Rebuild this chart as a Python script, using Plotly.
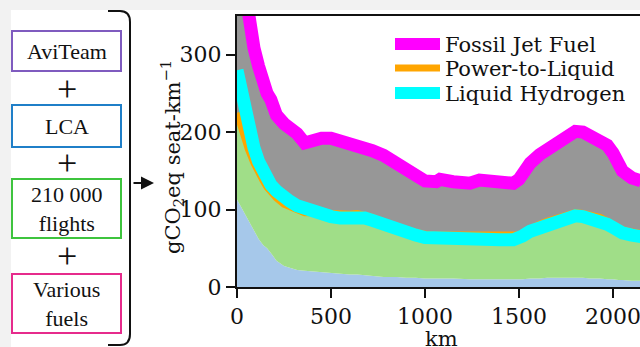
import plotly.graph_objects as go

# ---------------- data ----------------
distance_km = [0, 30, 60, 90, 115, 140, 160, 180, 210, 250, 280, 320, 360, 400, 450,
               500, 550, 600, 640, 680, 720, 780, 850, 900, 950, 1000, 1060, 1080,
               1150, 1240, 1290, 1350, 1400, 1470, 1500, 1520, 1560, 1610, 1650, 1700,
               1740, 1770, 1800, 1840, 1880, 1930, 1970, 2000, 2030, 2050, 2100, 2150]

fossil_jet_fuel = [450, 395, 345, 309, 285, 262, 250, 242, 222, 211, 206, 198, 186, 190, 192,
                   192, 189, 186, 184, 181, 176, 170, 158, 150, 142, 137, 136, 139,
                   136, 134, 138, 138, 135, 134, 139, 148, 160, 171, 178, 186,
                   194, 199, 201, 200, 196, 190, 183, 173, 160, 150, 141, 137]

power_to_liquid = [225, 198, 178, 160, 147, 137, 129, 122, 115, 107, 104, 99, 96, 96, 95,
                   94, 93, 94, 95, 93, 90, 84, 77, 74, 71, 68, 67, 67,
                   66, 65, 66, 65, 65, 65, 67, 70, 76, 81, 85, 89,
                   93, 95, 96, 95, 93, 90, 85, 81, 76, 74, 71, 69]

liquid_hydrogen = [280, 240, 208, 180, 162, 149, 140, 132, 124, 115, 111, 105, 101, 97, 93,
                   91, 89, 90, 91, 89, 86, 80, 73, 70, 67, 64, 63, 63,
                   62, 61, 62, 61, 61, 61, 63, 66, 72, 77, 81, 85,
                   89, 91, 92, 91, 89, 86, 81, 77, 72, 70, 67, 65]

base_component = [113, 100, 87, 73, 62, 54, 50, 44, 34, 27, 25, 22, 21, 20, 19,
                  18, 17, 16, 16, 15, 14, 13, 13, 12, 12, 11, 11, 11,
                  11, 10, 10, 10, 10, 10, 10, 10, 11, 11, 12, 12,
                  12, 12, 12, 12, 11, 11, 10, 10, 9, 9, 8, 8]

x_ticks = [0, 500, 1000, 1500, 2000]
y_ticks = [0, 100, 200, 300]

series_names = ["Fossil Jet Fuel", "Power-to-Liquid", "Liquid Hydrogen"]
series_colors = ["#ff00ff", "#ffa500", "#00ffff"]
series_widths = [13, 7, 13]

box_labels = ["AviTeam", "LCA", "210 000<br>flights", "Various<br>fuels"]
box_colors = ["#7f5bbf", "#1f7fc8", "#3ec43e", "#e62b8c"]

# ---------------- layout helpers (pixel -> paper) ----------------
W, H = 640, 347
L, T, R, B = 237, 16, 640, 287
PW, PH = R - L, B - T


def px(x):
    return (x - L) / PW


def py(y):
    return (B - y) / PH


SERIF = "'DejaVu Serif', serif"
TIMES = "'Liberation Serif', 'Times New Roman', serif"

fig = go.Figure()

# stacked fills
fig.add_trace(go.Scatter(x=distance_km, y=base_component, mode="lines", line=dict(width=0),
                         fill="tozeroy", fillcolor="#a6c8ea", showlegend=False, hoverinfo="skip"))
fig.add_trace(go.Scatter(x=distance_km, y=power_to_liquid, mode="lines", line=dict(width=0),
                         fill="tonexty", fillcolor="#a0de88", showlegend=False, hoverinfo="skip"))
fig.add_trace(go.Scatter(x=distance_km, y=fossil_jet_fuel, mode="lines", line=dict(width=0),
                         fill="tonexty", fillcolor="#979797", showlegend=False, hoverinfo="skip"))

# fuel lines
for name, vals, col, w in zip(series_names, [fossil_jet_fuel, power_to_liquid, liquid_hydrogen],
                              series_colors, series_widths):
    fig.add_trace(go.Scatter(x=distance_km, y=vals, mode="lines", name=name,
                             line=dict(color=col, width=w), showlegend=False))

shapes = []
annotations = []

# light grey page strips
shapes.append(dict(type="rect", xref="paper", yref="paper", x0=px(0), x1=px(W), y0=py(10), y1=py(0),
                   fillcolor="#f2f2f2", line=dict(width=0), layer="below"))
shapes.append(dict(type="rect", xref="paper", yref="paper", x0=px(0), x1=px(11), y0=py(H), y1=py(0),
                   fillcolor="#f2f2f2", line=dict(width=0), layer="below"))

# custom legend
leg_rows = [44, 68, 93]
leg_widths = [12, 7, 12]
for name, col, w, ry in zip(series_names, series_colors, leg_widths, leg_rows):
    shapes.append(dict(type="line", xref="paper", yref="paper", x0=px(395), x1=px(440),
                       y0=py(ry), y1=py(ry), line=dict(color=col, width=w)))
    annotations.append(dict(xref="paper", yref="paper", x=px(443), y=py(ry + 1), text=name,
                            showarrow=False, xanchor="left", yanchor="middle",
                            font=dict(family=SERIF, size=21, color="#111")))

# boxes on the left
box_y = [(31, 71), (105, 147), (179, 238), (274, 333)]
for lab, col, (y0, y1) in zip(box_labels, box_colors, box_y):
    shapes.append(dict(type="rect", xref="paper", yref="paper", x0=px(12), x1=px(121),
                       y0=py(y1), y1=py(y0), line=dict(color=col, width=2), fillcolor="white"))
    annotations.append(dict(xref="paper", yref="paper", x=px(66.5), y=py((y0 + y1) / 2), text=lab,
                            showarrow=False, xanchor="center", yanchor="middle",
                            font=dict(family=TIMES, size=22, color="#111")))
for yc in [89, 163, 256]:
    annotations.append(dict(xref="paper", yref="paper", x=px(67), y=py(yc), text="+",
                            showarrow=False, xanchor="center", yanchor="middle",
                            font=dict(family=TIMES, size=36, color="#111")))

# bracket
bx = [px(108), px(120), px(130)]
bracket = (f"M {bx[0]},{py(11)} L {bx[1]},{py(11)} Q {bx[2]},{py(11)} {bx[2]},{py(22)} "
           f"L {bx[2]},{py(334)} Q {bx[2]},{py(345)} {bx[1]},{py(345)} L {bx[0]},{py(345)}")
shapes.append(dict(type="path", xref="paper", yref="paper", path=bracket,
                   line=dict(color="#111", width=2)))

# arrow
annotations.append(dict(xref="paper", yref="paper", x=px(154), y=py(183), ax=-22, ay=0,
                        text="", showarrow=True, arrowhead=2, arrowsize=1.3, arrowwidth=2,
                        arrowcolor="#111"))

# axis titles
annotations.append(dict(xref="paper", yref="paper", x=px(172), y=py(157),
                        text="gCO<sub>2</sub>eq seat-km<sup>\u22121</sup>", textangle=-90,
                        showarrow=False, xanchor="center", yanchor="middle",
                        font=dict(family=SERIF, size=21, color="#111")))
annotations.append(dict(xref="paper", yref="paper", x=px(441), y=py(339), text="km",
                        showarrow=False, xanchor="center", yanchor="middle",
                        font=dict(family=SERIF, size=21, color="#111")))

fig.update_layout(
    width=W, height=H,
    margin=dict(l=L, r=W - R, t=T, b=H - B, pad=0),
    paper_bgcolor="white", plot_bgcolor="white",
    shapes=shapes, annotations=annotations,
    showlegend=False,
    xaxis=dict(range=[0, 2144], tickvals=x_ticks, showgrid=False, zeroline=False,
               showline=True, linecolor="#111", linewidth=2, mirror=True,
               ticks="outside", ticklen=9, tickwidth=2, tickcolor="#111",
               ticklabeloverflow="allow",
               tickfont=dict(family=SERIF, size=22, color="#111"), automargin=False),
    yaxis=dict(range=[0, 350], tickvals=y_ticks, showgrid=False, zeroline=False,
               showline=True, linecolor="#111", linewidth=2, mirror=False,
               ticks="outside", ticklen=9, tickwidth=2, tickcolor="#111",
               tickfont=dict(family=SERIF, size=22, color="#111"), automargin=False),
)

fig.write_html("out.html")
